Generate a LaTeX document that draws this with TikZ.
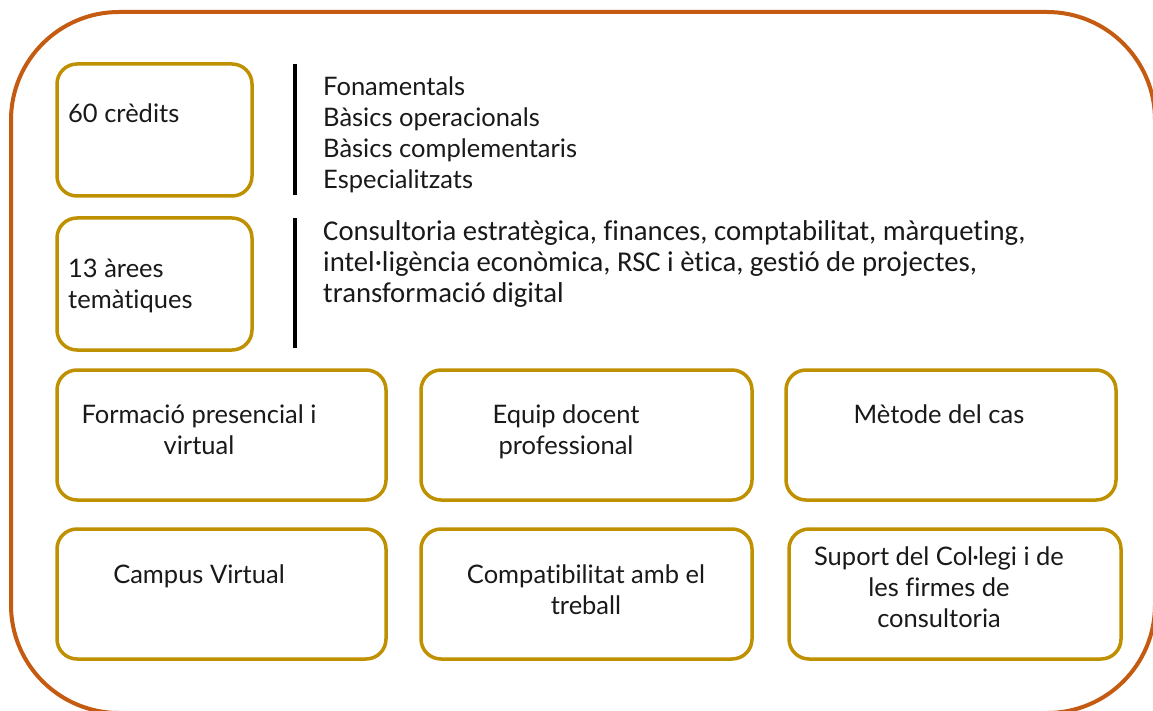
\documentclass[tikz,border=0pt]{standalone}
\usepackage{fontspec}
\setmainfont{Lato}[Ligatures={NoCommon}]
\newfontfamily\estreta{Carlito}[Ligatures={NoCommon}]
\definecolor{daurat}{HTML}{BF9000}
\definecolor{marc}{HTML}{C55A11}

\begin{document}
\begin{tikzpicture}[x=1pt, y=-1pt,
	caixa/.style={draw=daurat, line width=3.5pt, rounded corners=20pt, fill=white},
	lletra/.style={font=\fontsize{25.5}{31}\selectfont, inner sep=0pt, text=black!90},
	barra/.style={line width=4pt, black}]
	\useasboundingbox (0,0) rectangle (1153,711);
	\draw [marc, line width=4pt, rounded corners=108pt] (11,12) rectangle (1155,713);
	% caixes
	\node [caixa, minimum width=195pt, minimum height=132pt] (credits) at (154.5,130) {};
	\node [caixa, minimum width=195pt, minimum height=132pt] (arees) at (154.5,284) {};
	\node [caixa, minimum width=329pt, minimum height=130pt] (formacio) at (221.5,435) {};
	\node [caixa, minimum width=331pt, minimum height=130pt] (equip) at (586.5,435) {};
	\node [caixa, minimum width=330pt, minimum height=130pt] (metode) at (951,435) {};
	\node [caixa, minimum width=329pt, minimum height=130pt] (campus) at (221.5,594) {};
	\node [caixa, minimum width=331pt, minimum height=130pt] (treball) at (586.5,594) {};
	\node [caixa, minimum width=332pt, minimum height=130pt] (suport) at (955,594) {};
	\draw [barra] (295,64) -- (295,195);
	\draw [barra] (295,218) -- (295,348);
	% textos (base = darrera linia)
	\node [lletra, anchor=base west] (tcredits) at (68,123) {60 crèdits};
	\node [lletra, anchor=base west, align=left] (tarees) at (68,308) {13 àrees\\temàtiques};
	\node [lletra, anchor=base west, align=left] (tipus) at (323,189)
		{Fonamentals\\Bàsics operacionals\\Bàsics complementaris\\Especialitzats};
	\node [lletra, anchor=base west, align=left, font=\estreta\fontsize{28.7}{31}\selectfont] (temes) at (323,302)
		{Consultoria estratègica, finances, comptabilitat, màrqueting,\\
		intel·ligència econòmica, RSC i ètica, gestió de projectes,\\
		transformació digital};
	\node [lletra, anchor=base, align=center] (tformacio) at (199,454) {Formació presencial i\\virtual};
	\node [lletra, anchor=base, align=center] (tequip) at (566,454) {Equip docent\\professional};
	\node [lletra, anchor=base] (tmetode) at (939,423) {Mètode del cas};
	\node [lletra, anchor=base] (tcampus) at (199,583) {Campus Virtual};
	\node [lletra, anchor=base, align=center] (ttreball) at (586,614) {Compatibilitat amb el\\treball};
	\node [lletra, anchor=base, align=center] (tsuport) at (939,627) {Suport del Col·legi i de\\les firmes de\\consultoria};
\end{tikzpicture}
\end{document}
